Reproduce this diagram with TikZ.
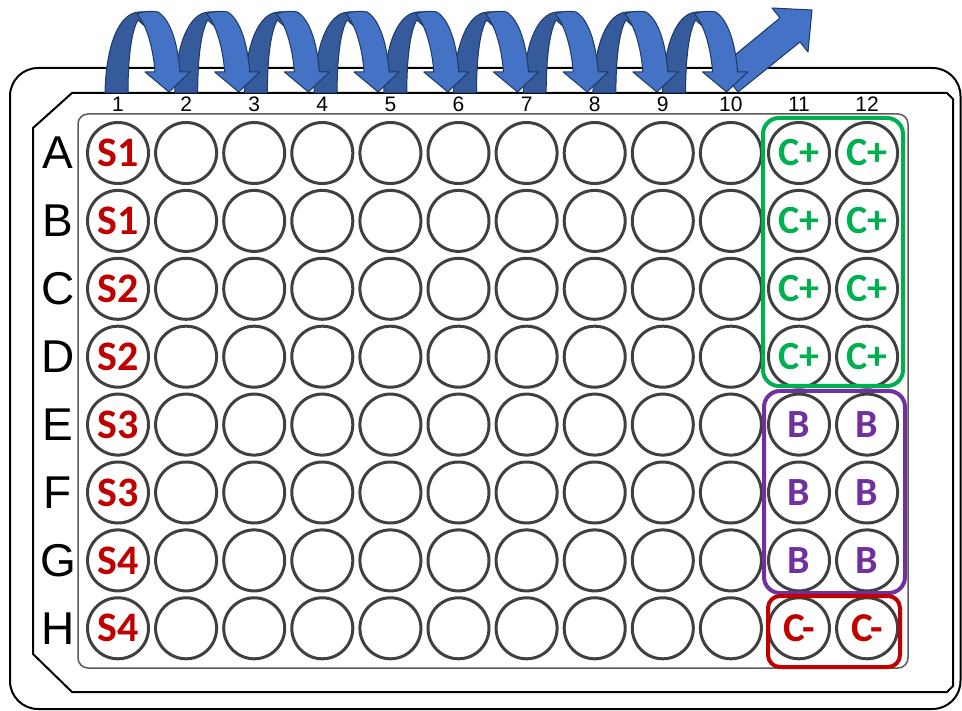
\documentclass[tikz,border=0pt]{standalone}
\usepackage{fontspec}
\setmainfont{Liberation Sans}
\newfontfamily\wellfont{Carlito}
\definecolor{wellred}{RGB}{192,0,0}
\definecolor{wellgreen}{RGB}{0,176,80}
\definecolor{wellpurple}{RGB}{112,48,160}
\definecolor{ringgrey}{RGB}{64,64,64}
\definecolor{areagrey}{RGB}{90,90,90}
\definecolor{arrlight}{RGB}{68,114,196}
\definecolor{arrdark}{RGB}{54,91,157}
\definecolor{arredge}{RGB}{31,56,100}
\begin{document}
\begin{tikzpicture}[x=1pt,y=-1pt,
  well/.style={circle,draw=ringgrey,line width=3pt,minimum size=61pt,inner sep=0pt},
  wlab/.style={font=\wellfont\bfseries\fontsize{#1}{#1}\selectfont},
  rowlab/.style={font=\fontsize{46}{46}\selectfont,inner sep=0pt},
  collab/.style={font=\fontsize{21}{21}\selectfont,inner sep=0pt},
  plate/.style={draw=black,line width=2pt},
  darkarr/.style={fill=arrdark,draw=arredge,line width=1pt,line join=round},
  lightarr/.style={fill=arrlight,draw=arredge,line width=1pt,line join=round},
  grpbox/.style={line width=4pt,rounded corners=16pt}]
\useasboundingbox (0,0) rectangle (962,711);
% plate outlines
\draw[plate,rounded corners=28pt] (10,68) rectangle (960.5,709);
\draw[plate] (72,93) -- (947,93) -- (953,99) -- (953,686) -- (947,692) -- (72,692) -- (33,654) -- (33,128) -- cycle;
\draw[draw=areagrey,line width=1.5pt,rounded corners=10pt] (78,114) rectangle (908,668);
% column labels
\foreach \c in {1,...,12}
  \node[collab] (col-\c) at ({118+(\c-1)*68.1},104) {\c};
% rows of wells
\foreach \r/\sl/\cl/\cc/\cs [count=\ri from 0] in
  {A/S1/C+/wellgreen/40, B/S1/C+/wellgreen/40, C/S2/C+/wellgreen/40, D/S2/C+/wellgreen/40,
   E/S3/B/wellpurple/40, F/S3/B/wellpurple/40, G/S4/B/wellpurple/40, H/S4/C-/wellred/41} {
  \node[rowlab] (row-\r) at (58,{153+\ri*67.9}) {\r};
  \node[well,text=wellred,wlab=42] (w-\r-1) at (118,{153+\ri*67.9}) {\sl};
  \foreach \c in {2,...,10}
    \node[well] (w-\r-\c) at ({118+(\c-1)*68.1},{153+\ri*67.9}) {};
  \node[well,text=\cc,wlab=\cs] (w-\r-11) at ({118+10*68.1},{153+\ri*67.9}) {\cl};
  \node[well,text=\cc,wlab=\cs] (w-\r-12) at ({118+11*68.1},{153+\ri*67.9}) {\cl};
}
% group frames
\draw[grpbox,wellgreen] (763,118) rectangle (903,386);
\draw[grpbox,wellpurple] (764,391) rectangle (905,593);
\draw[grpbox,wellred,rounded corners=12pt] (768,596) rectangle (900,667);
% serial dilution arrows: back legs
\foreach \i in {0,...,8}
  \filldraw[darkarr,shift={({105+\i*69.7},0)}]
    (0,93) .. controls (1,45) and (14,13) .. (34,12) -- (45,12) -- (44,30) -- (33,20)
    .. controls (27,30) and (23,55) .. (23,93) -- cycle;
% final straight arrow
\filldraw[lightarr] (738,92) -- (719,68) -- (780,18) -- (772,8) -- (812,10) -- (808,52) -- (800,42) -- cycle;
% front bands with heads
\foreach \i in {0,...,8}
  \filldraw[lightarr,shift={({105+\i*69.7},0)}]
    (32,14) .. controls (38,11) and (48,11) .. (53,12) .. controls (66,20) and (73,45) .. (75,72)
    -- (85,72) -- (64,92) -- (40,72) -- (50,72) .. controls (48,45) and (40,22) .. (32,14) -- cycle;
\end{tikzpicture}
\end{document}
